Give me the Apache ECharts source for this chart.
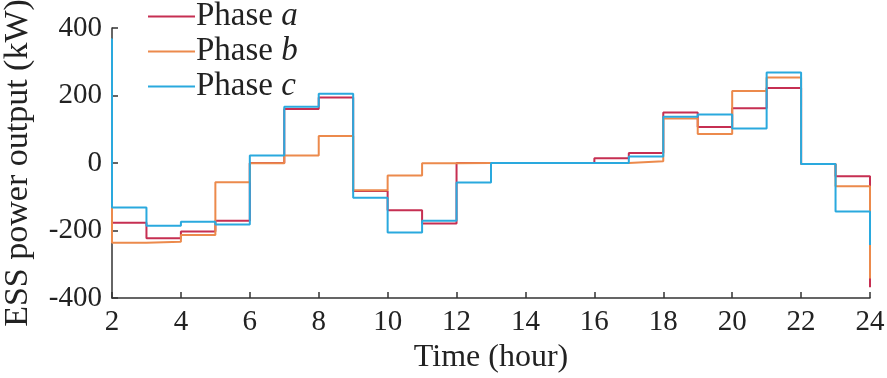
<!DOCTYPE html>
<html>
<head>
<meta charset="utf-8">
<script src="https://cdn.jsdelivr.net/npm/echarts@6/dist/echarts.min.js"></script>
<style>html,body{margin:0;padding:0;background:#fff}#c{width:887px;height:378px}</style>
</head>
<body>
<div id="c"></div>
<script>
// Hours (value at hour h holds over [h, h+1]); last point closes the final step at 24
const hours = [1,2,3,4,5,6,7,8,9,10,11,12,13,14,15,16,17,18,19,20,21,22,23,24];
const phaseA = [-130,-177,-223,-203,-171,0,160,194,-83,-140,-179,0,0,0,0,14,30,150,107,162,222,-3,-39,-368];
const phaseB = [-130,-236,-233,-213,-57,-1,22,80,-81,-37,-1,0,0,0,0,0,5,132,86,213,253,-3,-69,-342];
const phaseC = [367,-132,-186,-174,-182,22,167,205,-103,-206,-171,-58,0,0,0,0,19,137,144,102,268,-3,-144,-243];
const seriesNames = ['Phase a','Phase b','Phase c'];
const seriesLetters = ['a','b','c'];
const xTicks = [2,4,6,8,10,12,14,16,18,20,22,24];
const yTicks = [-400,-200,0,200,400];

const colors = ['#c62f52','#ec8a4c','#2aa9de'];
const font = "'Liberation Serif', 'Times New Roman', serif";
const pair = (vals) => hours.map((h, i) => [h, vals[i]]);
const allVals = [phaseA, phaseB, phaseC];

const chart = echarts.init(document.getElementById('c'), null, {renderer: 'canvas'});
chart.setOption({
  animation: false,
  backgroundColor: '#fff',
  textStyle: {fontFamily: font},
  grid: {left: 112, right: 17, top: 28, bottom: 80, containLabel: false, outerBoundsMode: 'none'},
  legend: {
    orient: 'vertical',
    left: 148, top: 0, padding: 0,
    itemWidth: 47, itemHeight: 2, itemGap: 2,
    icon: 'rect',
    data: seriesNames,
    formatter: function (name) {
      const i = seriesNames.indexOf(name);
      return '{n|Phase }{i|' + seriesLetters[i] + '}';
    },
    textStyle: {
      fontFamily: font, fontSize: 33, color: '#222', padding: [0, 0, 0, -4],
      rich: {
        n: {fontFamily: font, fontSize: 33, color: '#222', lineHeight: 35},
        i: {fontFamily: font, fontSize: 33, color: '#222', fontStyle: 'italic', lineHeight: 35}
      }
    }
  },
  xAxis: {
    type: 'value', min: xTicks[0], max: xTicks[xTicks.length - 1], interval: 2,
    name: 'Time (hour)', nameLocation: 'middle', nameGap: 40,
    nameTextStyle: {fontFamily: font, fontSize: 32, color: '#222'},
    axisLine: {show: true, onZero: false, lineStyle: {color: '#333', width: 1.5}},
    axisTick: {show: true, inside: true, length: 6, lineStyle: {color: '#333', width: 1.5}},
    axisLabel: {fontFamily: font, fontSize: 29, color: '#222', margin: 10},
    splitLine: {show: false}
  },
  yAxis: {
    type: 'value', min: yTicks[0], max: yTicks[yTicks.length - 1], interval: 200,
    name: 'ESS power output (kW)', nameLocation: 'middle', nameGap: 77, nameRotate: 90,
    nameTextStyle: {fontFamily: font, fontSize: 34, color: '#222'},
    axisLine: {show: true, onZero: false, lineStyle: {color: '#333', width: 1.5}},
    axisTick: {show: true, inside: true, length: 6, lineStyle: {color: '#333', width: 1.5}},
    axisLabel: {fontFamily: font, fontSize: 29, color: '#222', margin: 10},
    splitLine: {show: false}
  },
  series: seriesNames.map((n, i) => ({
    name: n, type: 'line', step: 'end', showSymbol: false, symbol: 'none',
    clip: true,
    data: pair(allVals[i]),
    lineStyle: {color: colors[i], width: 2},
    itemStyle: {color: colors[i]}
  }))
});
</script>
</body>
</html>
